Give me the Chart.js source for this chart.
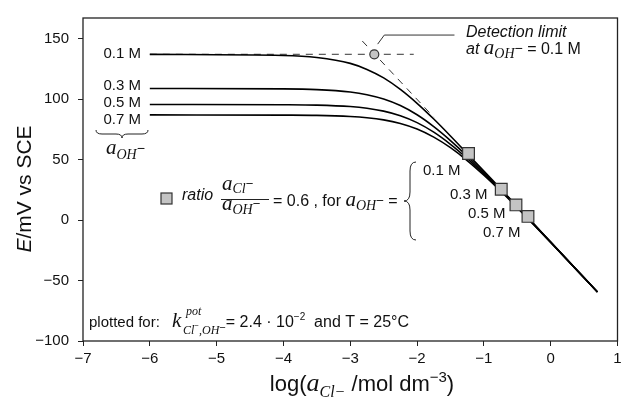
<!DOCTYPE html>
<html>
<head>
<meta charset="utf-8">
<script src="https://cdn.jsdelivr.net/npm/chart.js@4/dist/chart.umd.min.js"></script>
<style>
  html, body { margin: 0; padding: 0; background: #fff; }
</style>
</head>
<body>
<canvas id="nikolsky" width="627" height="404"></canvas>
<script>
// axis ticks
const xTicks = [-7, -6, -5, -4, -3, -2, -1, 0, 1];
const yTicks = [-100, -50, 0, 50, 100, 150];

// log(a_Cl) grid used for the response curves
const logACl = [-6, -4, -3.5, -3, -2.75, -2.5, -2.25, -2, -1.75, -1.5, -1.25, -1, -0.75, -0.5, -0.25, 0, 0.35, 0.7];
// E / mV for a_OH = 0.1, 0.3, 0.5, 0.7 M
const e01 = [136.9, 136.0, 134.3, 129.5, 124.5, 117.5, 108.0, 96.5, 83.5, 69.5, 55.0, 40.4, 25.9, 11.3, -3.4, -18.2, -38.8, -59.5];
const e03 = [108.7, 108.4, 107.8, 105.8, 103.6, 100.0, 94.6, 87.0, 77.2, 65.7, 52.9, 39.3, 25.3, 10.9, -3.6, -18.3, -38.9, -59.5];
const e05 = [95.5, 95.3, 95.0, 93.8, 92.4, 90.0, 86.2, 80.5, 72.6, 62.6, 51.0, 38.2, 24.6, 10.5, -3.8, -18.4, -38.9, -59.5];
const e07 = [86.9, 86.7, 86.5, 85.6, 84.6, 82.8, 79.8, 75.2, 68.5, 59.8, 49.2, 37.1, 24.0, 10.2, -4.1, -18.5, -39.0, -59.5];

// squares: ratio a_Cl / a_OH = 0.6
const ratioX = [-1.23, -0.74, -0.52, -0.34];
const ratioY = [55, 25.5, 12.5, 3];

// detection limit for a_OH = 0.1 M and its construction lines
const detX = [-2.64];
const detY = [137];
const plateauX = [-6, -2.05];
const plateauY = [137, 137];
const slopeX = [-2.82, -1.75];
const slopeY = [148, 85];
const leaderX = [-2.59, -2.49, -1.44];
const leaderY = [145.4, 152.9, 152.9];

const SANS = '"Liberation Sans", Arial, sans-serif';
const SERIF = '"Liberation Serif", "Times New Roman", serif';
const sans = (s, st) => (st || '') + ' ' + s + 'px ' + SANS;
const serif = (s) => 'italic ' + s + 'px ' + SERIF;

const pts = (xs, ys) => xs.map((x, i) => ({ x: x, y: ys[i] }));
const minus = v => String(v).replace('-', '\u2212');

function rich(ctx, x, y, parts) {
    parts.forEach(p => {
        ctx.font = p.f;
        x += (p.dx || 0);
        ctx.fillText(p.t, x, y + (p.dy || 0));
        x += ctx.measureText(p.t).width;
    });
    return x;
}
function richWidth(ctx, parts) {
    let w = 0;
    parts.forEach(p => { ctx.font = p.f; w += ctx.measureText(p.t).width + (p.dx || 0); });
    return w;
}

function hBrace(ctx, x1, x2, y, r) {
    const xm = (x1 + x2) / 2;
    ctx.beginPath();
    ctx.moveTo(x1, y - r);
    ctx.quadraticCurveTo(x1, y, x1 + r * 1.5, y);
    ctx.lineTo(xm - r * 1.5, y);
    ctx.quadraticCurveTo(xm, y, xm, y + r);
    ctx.quadraticCurveTo(xm, y, xm + r * 1.5, y);
    ctx.lineTo(x2 - r * 1.5, y);
    ctx.quadraticCurveTo(x2, y, x2, y - r);
    ctx.stroke();
}
function vBrace(ctx, x, y1, y2, w) {
    const ym = (y1 + y2) / 2;
    ctx.beginPath();
    ctx.moveTo(x + w, y1);
    ctx.quadraticCurveTo(x, y1, x, y1 + w * 1.5);
    ctx.lineTo(x, ym - w * 1.5);
    ctx.quadraticCurveTo(x, ym, x - w, ym);
    ctx.quadraticCurveTo(x, ym, x, ym + w * 1.5);
    ctx.lineTo(x, y2 - w * 1.5);
    ctx.quadraticCurveTo(x, y2, x + w, y2);
    ctx.stroke();
}

const annotations = {
    id: 'annotations',
    afterDraw(chart) {
        const ctx = chart.ctx;
        const a = chart.chartArea;
        ctx.save();
        ctx.strokeStyle = '#222';
        ctx.lineWidth = 1.3;
        ctx.strokeRect(a.left, a.top, a.right - a.left, a.bottom - a.top);

        ctx.fillStyle = '#111';
        ctx.strokeStyle = '#222';
        ctx.lineWidth = 1;
        ctx.textBaseline = 'alphabetic';

        // a_OH labels on the left
        ctx.textAlign = 'right';
        ctx.font = sans(15);
        ctx.fillText('0.1 M', 141, 58);
        ctx.fillText('0.3 M', 141, 90);
        ctx.fillText('0.5 M', 141, 107);
        ctx.fillText('0.7 M', 141, 124);
        ctx.textAlign = 'left';
        hBrace(ctx, 96, 148, 134, 4);
        rich(ctx, 106, 154, [
            { t: 'a', f: serif(21) },
            { t: 'OH', f: serif(14), dy: 5 },
            { t: '\u2212', f: sans(14), dy: -1 }
        ]);

        // detection limit note
        rich(ctx, 466, 36.5, [{ t: 'Detection limit', f: sans(16, 'italic') }]);
        rich(ctx, 466, 53.5, [
            { t: 'at ', f: sans(16, 'italic') },
            { t: 'a', f: serif(21) },
            { t: 'OH', f: serif(14), dy: 4 },
            { t: '\u2212', f: sans(14), dy: -1 },
            { t: ' = 0.1 M', f: sans(16) }
        ]);

        // ratio legend line
        ctx.fillStyle = '#c4c4c4';
        ctx.fillRect(161, 193, 11, 11);
        ctx.strokeStyle = '#333';
        ctx.lineWidth = 1.2;
        ctx.strokeRect(161, 193, 11, 11);
        ctx.fillStyle = '#111';
        ctx.strokeStyle = '#222';
        ctx.lineWidth = 1;
        rich(ctx, 182, 200, [{ t: 'ratio', f: sans(16, 'italic') }]);
        rich(ctx, 222, 190, [
            { t: 'a', f: serif(21) },
            { t: 'Cl', f: serif(14), dy: 3 },
            { t: '\u2212', f: sans(13), dy: -2 }
        ]);
        ctx.beginPath();
        ctx.moveTo(221, 199.5);
        ctx.lineTo(269, 199.5);
        ctx.stroke();
        rich(ctx, 222, 210, [
            { t: 'a', f: serif(21) },
            { t: 'OH', f: serif(14), dy: 4 },
            { t: '\u2212', f: sans(13), dy: -2 }
        ]);
        rich(ctx, 273, 205.5, [
            { t: '= 0.6 , for ', f: sans(16) },
            { t: 'a', f: serif(21) },
            { t: 'OH', f: serif(14), dy: 4 },
            { t: '\u2212', f: sans(13), dy: -1 },
            { t: ' =', f: sans(16) }
        ]);
        vBrace(ctx, 410, 162, 240, 6);
        ctx.font = sans(15);
        ctx.fillText('0.1 M', 423, 175);
        ctx.fillText('0.3 M', 450, 198.5);
        ctx.fillText('0.5 M', 468, 217.5);
        ctx.fillText('0.7 M', 483, 236.5);

        // plotted-for note
        ctx.font = sans(15);
        ctx.fillText('plotted for:', 89, 327);
        rich(ctx, 172, 327, [{ t: 'k', f: serif(21) }]);
        rich(ctx, 186, 315, [{ t: 'pot', f: serif(12) }]);
        let xe = rich(ctx, 183, 334, [
            { t: 'Cl', f: serif(12) },
            { t: '\u2212', f: sans(8), dy: -6 },
            { t: ',OH', f: serif(12) },
            { t: '\u2212', f: sans(11), dy: -3 }
        ]);
        xe = rich(ctx, xe, 327, [{ t: '= 2.4 \u00b7 10', f: sans(16) }]);
        xe = rich(ctx, xe, 320, [{ t: '\u22122', f: sans(10) }]);
        rich(ctx, xe, 327, [{ t: '  and T = 25\u00b0C', f: sans(16) }]);

        // axis titles
        const xt = [
            { t: 'log(', f: sans(22) },
            { t: 'a', f: serif(26) },
            { t: 'Cl\u2212', f: serif(16), dy: 6 },
            { t: ' /mol dm', f: sans(22) },
            { t: '\u22123', f: sans(15), dy: -9 },
            { t: ')', f: sans(22) }
        ];
        rich(ctx, 362 - richWidth(ctx, xt) / 2, 391, xt);

        const yt = [
            { t: 'E', f: sans(21, 'italic') },
            { t: '/mV vs SCE', f: sans(21) }
        ];
        ctx.translate(31, 189);
        ctx.rotate(-Math.PI / 2);
        rich(ctx, -richWidth(ctx, yt) / 2, 0, yt);
        ctx.restore();
    }
};

const curve = (ys) => ({
    data: pts(logACl, ys),
    borderColor: '#000',
    borderWidth: 1.6,
    pointRadius: 0,
    cubicInterpolationMode: 'monotone',
    order: 3
});
const guide = (xs, ys, dash) => ({
    data: pts(xs, ys),
    borderColor: '#333',
    borderWidth: 1,
    borderDash: dash,
    pointRadius: 0,
    order: 4
});

new Chart(document.getElementById('nikolsky'), {
    type: 'line',
    data: {
        datasets: [
            {
                data: pts(ratioX, ratioY),
                showLine: false,
                pointStyle: 'rect',
                pointRadius: 8.3,
                pointBackgroundColor: '#c4c4c4',
                pointBorderColor: '#333',
                pointBorderWidth: 1.2,
                order: 0
            },
            {
                data: pts(detX, detY),
                showLine: false,
                pointStyle: 'circle',
                pointRadius: 4.5,
                pointBackgroundColor: '#c4c4c4',
                pointBorderColor: '#333',
                pointBorderWidth: 1.2,
                order: 0
            },
            curve(e01), curve(e03), curve(e05), curve(e07),
            guide(plateauX, plateauY, [7, 6]),
            guide(slopeX, slopeY, [7, 6]),
            guide(leaderX, leaderY, [])
        ]
    },
    options: {
        responsive: false,
        animation: false,
        layout: { padding: { top: 13, right: 2, left: 0, bottom: 0 } },
        plugins: { legend: { display: false }, tooltip: { enabled: false } },
        scales: {
            x: {
                type: 'linear',
                min: -7, max: 1,
                afterBuildTicks: s => { s.ticks = xTicks.map(v => ({ value: v })); },
                afterFit: s => { s.height = 63; },
                grid: { display: true, drawOnChartArea: false, drawTicks: true, tickLength: 5, color: '#222' },
                border: { display: false },
                ticks: { color: '#111', padding: 4, font: { family: SANS, size: 15 }, callback: minus }
            },
            y: {
                min: -100, max: 167,
                afterBuildTicks: s => { s.ticks = yTicks.map(v => ({ value: v })); },
                afterFit: s => { s.width = 83; },
                grid: { display: true, drawOnChartArea: false, drawTicks: true, tickLength: 5, color: '#222' },
                border: { display: false },
                ticks: { color: '#111', padding: 9, font: { family: SANS, size: 15 }, callback: minus }
            }
        }
    },
    plugins: [annotations]
});
</script>
</body>
</html>
